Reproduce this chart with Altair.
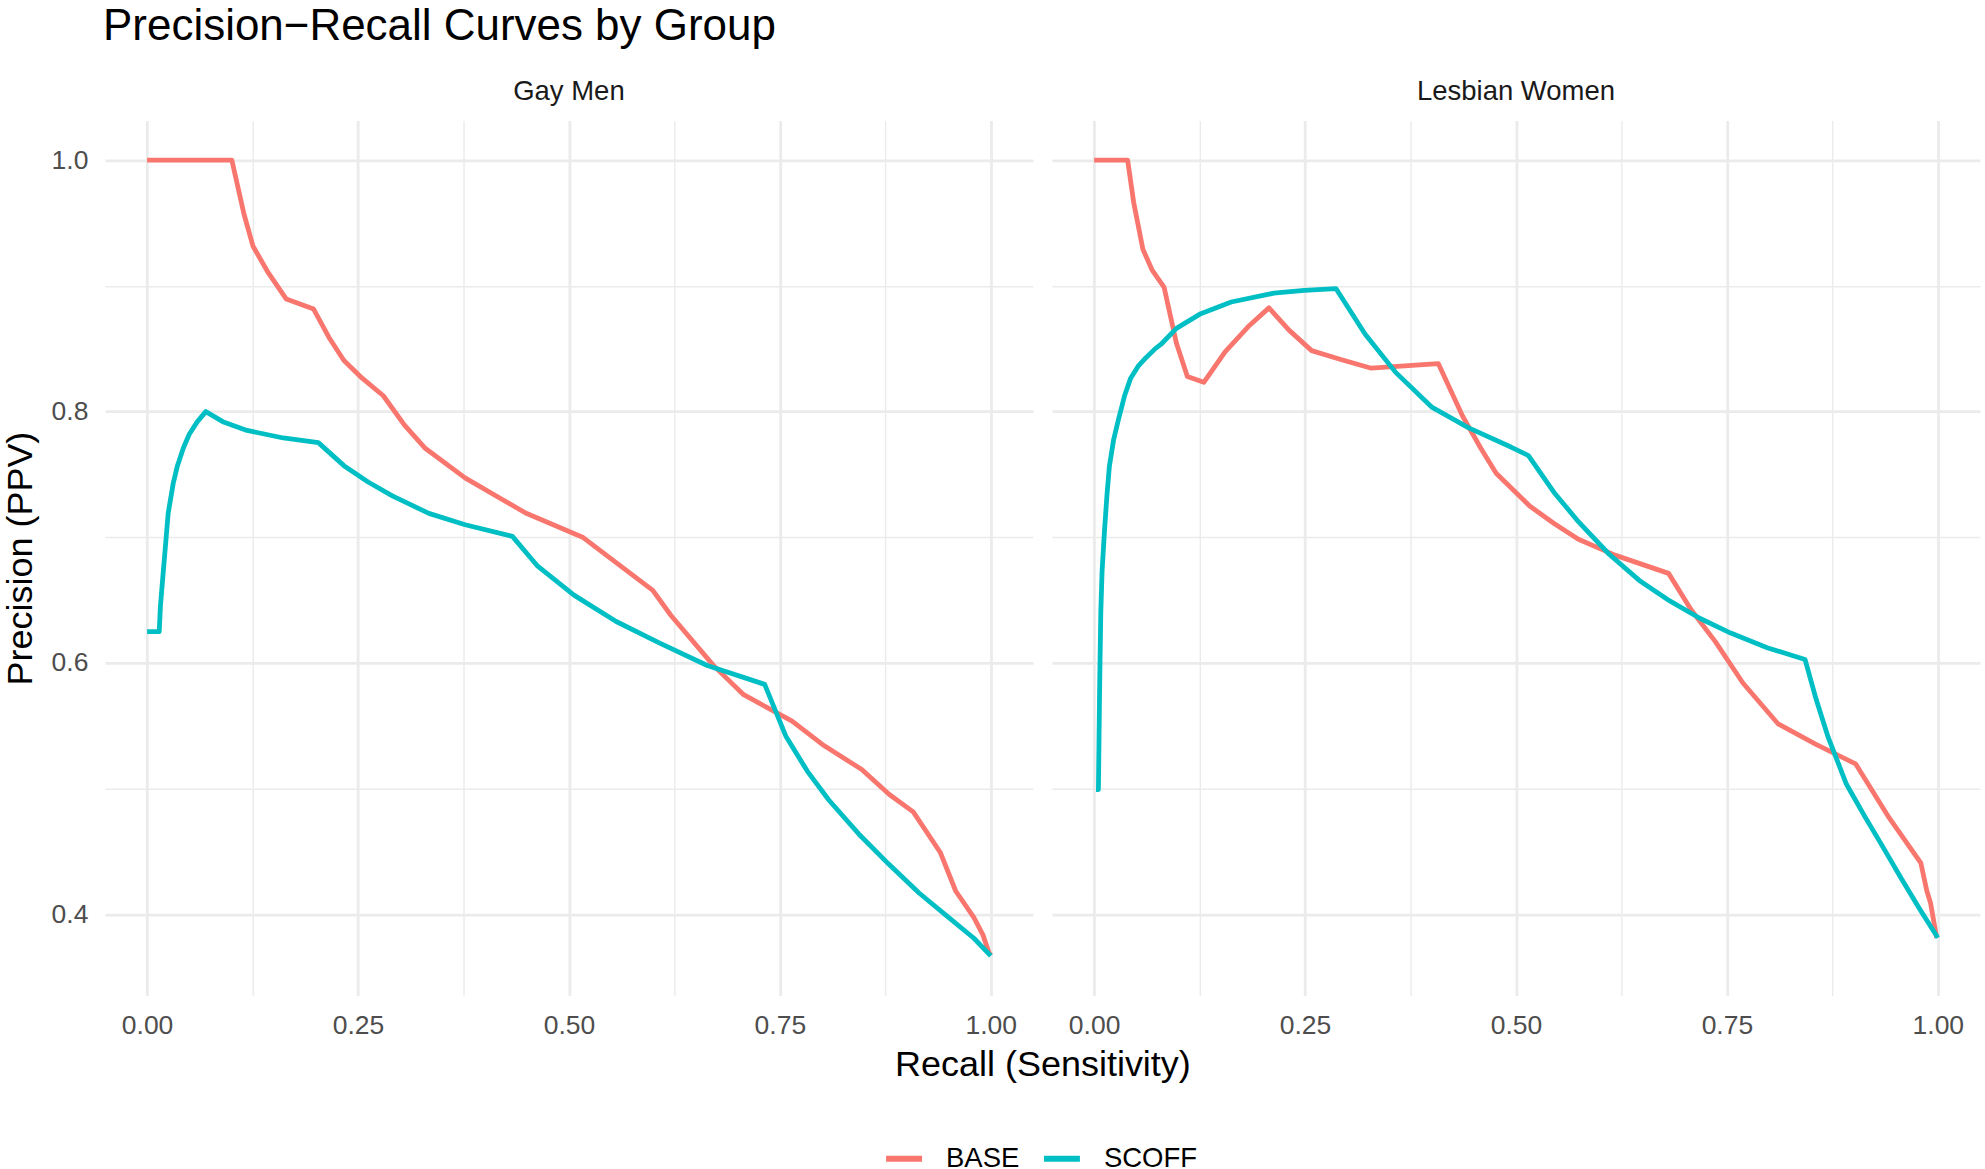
import altair as alt
import pandas as pd

# Precision-recall curves, read per group and per model
gay_base_recall = [0.0, 0.1005, 0.1149, 0.1256, 0.1436, 0.165, 0.1974, 0.2154, 0.2333, 0.2549,
                   0.280, 0.3051, 0.330, 0.3769, 0.4487, 0.5169, 0.5564, 0.5994, 0.621, 0.6712,
                   0.7071, 0.7645, 0.8004, 0.8471, 0.8794, 0.9081, 0.9404, 0.9584, 0.9799, 0.9907,
                   0.9978, 1.0]
gay_base_precision = [1.0, 1.0, 0.957, 0.9315, 0.9105, 0.8895, 0.8816, 0.8592, 0.8406, 0.8266,
                      0.8126, 0.7893, 0.7706, 0.7473, 0.7193, 0.6998, 0.6797, 0.6578, 0.6378, 0.5981,
                      0.5748, 0.5538, 0.5352, 0.5152, 0.4956, 0.4816, 0.449, 0.4186, 0.3977, 0.3837,
                      0.3697, 0.3674]

gay_scoff_recall = [0.0, 0.0144, 0.0158, 0.018, 0.0215, 0.025, 0.031, 0.036, 0.043, 0.050,
                    0.0596, 0.0696, 0.0897, 0.1185, 0.1615, 0.203, 0.2333, 0.262, 0.2907, 0.334,
                    0.377, 0.433, 0.463, 0.506, 0.556, 0.607, 0.664, 0.732, 0.757, 0.7825,
                    0.808, 0.8435, 0.879, 0.915, 0.951, 0.980, 1.0]
gay_scoff_precision = [0.625, 0.625, 0.645, 0.663, 0.691, 0.719, 0.743, 0.757, 0.771, 0.782,
                       0.792, 0.800, 0.792, 0.785, 0.779, 0.7753, 0.757, 0.744, 0.733, 0.719,
                       0.710, 0.7007, 0.677, 0.654, 0.633, 0.616, 0.598, 0.583, 0.542, 0.514,
                       0.491, 0.464, 0.440, 0.417, 0.397, 0.381, 0.367]

lesbian_base_recall = [0.0, 0.0397, 0.0469, 0.0578, 0.0686, 0.083, 0.0975, 0.1105, 0.130, 0.1552,
                       0.1841, 0.2072, 0.231, 0.2578, 0.2924, 0.3285, 0.4079, 0.4368, 0.4585, 0.4765,
                       0.5162, 0.5451, 0.574, 0.6173, 0.6809, 0.7076, 0.7365, 0.769, 0.8108, 0.8556,
                       0.9025, 0.9422, 0.9798, 0.987, 0.9913, 0.9986]
lesbian_base_precision = [1.0, 1.0, 0.9664, 0.9291, 0.9128, 0.8988, 0.8545, 0.828, 0.8233, 0.8476,
                          0.8685, 0.8825, 0.8648, 0.8485, 0.8415, 0.8345, 0.8382, 0.7963, 0.7706, 0.751,
                          0.7249, 0.711, 0.6984, 0.6858, 0.6713, 0.6424, 0.6168, 0.5841, 0.5515, 0.5352,
                          0.5198, 0.4769, 0.441, 0.4186, 0.4093, 0.3814]

lesbian_scoff_recall = [0.0022, 0.0051, 0.0065, 0.0079, 0.0094, 0.0123, 0.0152, 0.0181, 0.0231, 0.0289,
                        0.0361, 0.0433, 0.052, 0.0614, 0.0722, 0.0794, 0.0975, 0.1264, 0.1625, 0.213,
                        0.2491, 0.2866, 0.3213, 0.3574, 0.4007, 0.444, 0.4946, 0.5148, 0.5451, 0.574,
                        0.6101, 0.6462, 0.6823, 0.7184, 0.7545, 0.7978, 0.8426, 0.8556, 0.870, 0.8917,
                        0.9134, 0.935, 0.9567, 0.9783, 1.0]
lesbian_scoff_precision = [0.4993, 0.4993, 0.5795, 0.6401, 0.6727, 0.7054, 0.7333, 0.7566, 0.7776, 0.7939,
                           0.8126, 0.8266, 0.8359, 0.8429, 0.8499, 0.8536, 0.8662, 0.8779, 0.8872, 0.8942,
                           0.8965, 0.8979, 0.8615, 0.8312, 0.8033, 0.787, 0.7716, 0.765, 0.7357, 0.7124,
                           0.6867, 0.6657, 0.6494, 0.6354, 0.6238, 0.6121, 0.6028, 0.5715, 0.541, 0.5035,
                           0.478, 0.4535, 0.4285, 0.4045, 0.3814]

groups = ["Gay Men", "Lesbian Women"]
models = ["BASE", "SCOFF"]
colors = ["#F8766D", "#00BFC4"]

series = [
    ("Gay Men", "BASE", gay_base_recall, gay_base_precision),
    ("Gay Men", "SCOFF", gay_scoff_recall, gay_scoff_precision),
    ("Lesbian Women", "BASE", lesbian_base_recall, lesbian_base_precision),
    ("Lesbian Women", "SCOFF", lesbian_scoff_recall, lesbian_scoff_precision),
]
rows = []
for group, model, rec, prec in series:
    for i, (r, p) in enumerate(zip(rec, prec)):
        rows.append({"group": group, "model": model, "recall": r, "precision": p, "idx": i})
df = pd.DataFrame(rows)

FONT = "Liberation Sans"
x_ticks = [i * 0.125 for i in range(9)]
y_ticks = [0.4, 0.5, 0.6, 0.7, 0.8, 0.9, 1.0]

# Major grid lines carry labels; minor ones sit halfway between, thinner
x_axis = alt.Axis(
    values=x_ticks,
    labelExpr="datum.value % 0.25 === 0 ? format(datum.value, '.2f') : ''",
    gridWidth={"condition": {"test": "datum.value % 0.25 === 0", "value": 2.8}, "value": 1.4},
    ticks=False, domain=False, labelPadding=17, labelFontSize=26.5,
    labelColor="#4D4D4D", labelFont=FONT, title=None,
)
y_axis = alt.Axis(
    values=y_ticks,
    labelExpr="round(datum.value * 10) % 2 === 0 ? format(datum.value, '.1f') : ''",
    gridWidth={"condition": {"test": "round(datum.value * 10) % 2 === 0", "value": 2.8}, "value": 1.4},
    ticks=False, domain=False, labelPadding=17, labelFontSize=26.5,
    labelColor="#4D4D4D", labelFont=FONT,
    title="Precision (PPV)", titleFontSize=36, titleFont=FONT, titleColor="black",
    titleFontWeight="normal", titlePadding=12,
)

lines = alt.Chart(df).mark_line(strokeWidth=4.8, strokeJoin="round").encode(
    x=alt.X("recall:Q", scale=alt.Scale(domain=[-0.05, 1.05], nice=False, zero=False), axis=x_axis),
    y=alt.Y("precision:Q", scale=alt.Scale(domain=[0.3354, 1.0316], nice=False, zero=False), axis=y_axis),
    color=alt.Color(
        "model:N",
        scale=alt.Scale(domain=models, range=colors),
        legend=alt.Legend(
            title=None, orient="none", direction="horizontal", legendX=779, legendY=1018,
            symbolType="stroke", symbolSize=1296, symbolStrokeWidth=6, labelFontSize=27.5,
            labelFont=FONT, labelColor="black", labelOffset=21, columnPadding=12, padding=0,
        ),
    ),
    order="idx:Q",
).properties(width=929, height=876)

chart = lines.facet(
    column=alt.Column(
        "group:N",
        sort=groups,
        header=alt.Header(
            title="Recall (Sensitivity)", titleOrient="bottom", titleFontSize=36,
            titleFont=FONT, titleColor="black", titleFontWeight="normal", titlePadding=-2,
            labelOrient="top", labelFontSize=27.5, labelFont=FONT, labelColor="#1A1A1A",
            labelPadding=14.5,
        ),
    ),
    spacing=19,
).properties(
    title=alt.TitleParams(
        "Precision−Recall Curves by Group", anchor="start", fontSize=44, font=FONT,
        fontWeight="normal", color="black", offset=29.5, dx=101,
    ),
    padding={"left": 2, "top": 4, "right": 5, "bottom": 5},
).configure_view(stroke=None).configure_axis(gridColor="#EBEBEB")

chart.save("out.html", embed_options={"renderer": "svg", "actions": False})
